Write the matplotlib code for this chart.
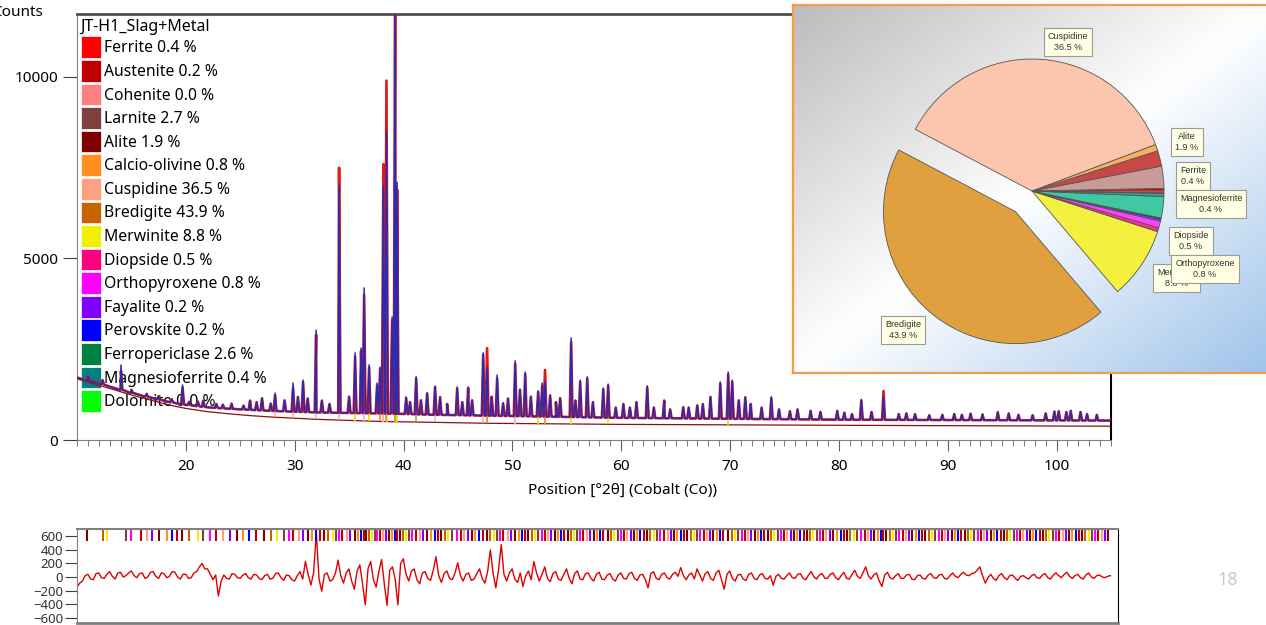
import matplotlib.pyplot as plt
import numpy as np
from matplotlib.patches import Patch
from matplotlib.colors import LinearSegmentedColormap
from matplotlib.ticker import MultipleLocator

plt.rcParams['font.family'] = ['Noto Sans', 'DejaVu Sans']

# phase fractions (legend + pie)
phases = ['Ferrite', 'Austenite', 'Cohenite', 'Larnite', 'Alite', 'Calcio-olivine',
          'Cuspidine', 'Bredigite', 'Merwinite', 'Diopside', 'Orthopyroxene',
          'Fayalite', 'Perovskite', 'Ferropericlase', 'Magnesioferrite', 'Dolomite']
fractions = [0.4, 0.2, 0.0, 2.7, 1.9, 0.8, 36.5, 43.9, 8.8, 0.5, 0.8, 0.2, 0.2, 2.6, 0.4, 0.0]
legend_colors = ['#ff0000', '#c00000', '#ff8080', '#804040', '#800000', '#ff9020',
                 '#ffa080', '#c86400', '#f0f000', '#ff0080', '#ff00ff', '#8000ff',
                 '#0000ff', '#008040', '#008080', '#00ff00']
pie_colors = ['#ff3030', '#c00000', '#ff8080', '#c89a98', '#c84848', '#f8b060',
              '#fcc6ae', '#e0a040', '#f4f040', '#f03090', '#ff40ff', '#8040ff',
              '#2020ff', '#40c8a0', '#30a0a0', '#40ff40']

# background of the scan (counts)
bg_x = [10, 11, 12, 13, 14, 15, 16, 17, 18, 19, 20, 22, 24, 26, 28, 30, 32, 34, 36, 38,
        40, 42, 44, 46, 48, 50, 52, 54, 56, 58, 60, 64, 68, 72, 76, 80, 85, 90, 95, 100, 105]
bg_y = [1720, 1640, 1560, 1470, 1390, 1300, 1220, 1150, 1080, 1020, 970, 900, 860, 830,
        800, 780, 760, 750, 740, 730, 720, 700, 690, 680, 670, 660, 650, 640, 630, 620,
        610, 600, 590, 580, 570, 560, 555, 550, 545, 540, 535]
bg_low_y = [1680, 1600, 1510, 1420, 1330, 1240, 1160, 1080, 1000, 930, 870, 780, 720, 670,
            630, 600, 570, 550, 530, 510, 500, 490, 480, 470, 460, 455, 450, 445, 440, 435,
            430, 425, 420, 415, 410, 405, 400, 395, 390, 385, 380]

# peaks: position, observed top, calculated top
peak_pos = [11.0, 12.35, 14.04, 15.0, 16.4, 17.5, 18.7, 19.7, 20.3, 21.1, 21.6, 22.8, 23.4,
            24.2, 25.3, 25.9, 26.5, 27.0, 27.8, 28.2, 29.07, 29.85, 30.3, 30.77, 31.2, 31.97,
            32.5, 33.2, 34.08, 35.0, 35.55, 36.1, 36.38, 36.84, 37.57, 37.85, 38.15, 38.43,
            38.95, 39.23, 39.41, 40.24, 40.6, 41.16, 41.6, 42.17, 42.9, 43.36, 44.0, 44.93,
            45.4, 45.94, 46.3, 47.32, 47.68, 48.1, 48.6, 49.15, 49.6, 50.26, 50.7, 51.18,
            51.7, 52.37, 52.74, 53.0, 53.47, 54.0, 54.39, 55.4, 55.8, 56.23, 56.88, 57.4,
            58.35, 58.8, 59.5, 60.2, 60.8, 61.4, 62.39, 63.0, 63.95, 64.5, 65.7, 66.2, 66.99,
            67.5, 68.2, 69.1, 69.83, 70.2, 70.8, 71.4, 71.9, 72.9, 73.79, 74.5, 75.5, 76.2,
            77.4, 78.3, 79.85, 80.5, 81.2, 82.06, 83.0, 84.1, 85.5, 86.2, 87.0, 88.3, 89.5,
            90.6, 91.3, 92.1, 93.2, 94.6, 95.6, 96.5, 97.8, 99.0, 99.8, 100.2, 100.9, 101.3,
            102.2, 102.8, 103.7]
peak_obs = [1760, 1640, 2066, 1380, 1280, 1200, 1130, 1515, 1060, 1050, 1090, 1000, 980,
            990, 940, 1100, 1050, 1160, 1010, 1290, 1100, 1570, 1200, 1650, 1150, 3030,
            1100, 1000, 7000, 1200, 2400, 2530, 4190, 2070, 1570, 2010, 7000, 8500,
            3390, 11900, 7100, 1190, 1050, 1740, 1100, 1300, 1490, 1190, 1000, 1460,
            1050, 1460, 1100, 2400, 2000, 1200, 1790, 1020, 1150, 2180, 1400, 1870,
            1200, 1350, 1570, 1600, 1240, 1050, 1160, 2810, 1100, 1650, 1740, 1050,
            1430, 1540, 900, 1000, 900, 1050, 1490, 900, 1100, 850, 910, 900, 960,
            1000, 1200, 1600, 1870, 1650, 1100, 1190, 1000, 900, 1190, 850, 800, 850,
            810, 780, 810, 760, 720, 1120, 780, 1200, 720, 740, 716, 690, 700,
            720, 700, 735, 710, 770, 735, 700, 690, 740, 790, 800, 780, 810,
            780, 720, 700]
peak_calc = [1760, 1650, 1900, 1380, 1270, 1210, 1120, 1450, 1050, 1060, 1080, 990, 970,
             1000, 950, 1080, 1040, 1150, 1000, 1240, 1090, 1430, 1180, 1600, 1140, 2900,
             1080, 990, 7500, 1190, 2300, 2450, 4000, 2000, 1500, 1950, 7600, 9900,
             3300, 11900, 6900, 1150, 1040, 1700, 1090, 1280, 1450, 1180, 990, 1420,
             1040, 1430, 1090, 2350, 2530, 1190, 1700, 1010, 1140, 2100, 1380, 1820,
             1190, 1330, 1500, 1930, 1220, 1040, 1150, 2700, 1080, 1600, 1700, 1040,
             1400, 1500, 890, 990, 890, 1040, 1450, 890, 1080, 840, 900, 890, 950,
             990, 1180, 1550, 1800, 1600, 1090, 1170, 990, 890, 1150, 840, 790, 840,
             800, 770, 800, 750, 710, 1080, 770, 1350, 710, 730, 710, 680, 690,
             710, 690, 720, 700, 760, 730, 690, 680, 730, 780, 790, 770, 800,
             770, 710, 690]

# single-phase contributions (spikes above the low background)
merw_pos = [35.55, 36.84, 38.15, 38.5, 39.23, 39.41, 47.68, 50.26, 52.37, 55.4, 58.8, 69.83]
merw_top = [900, 1000, 1900, 2300, 2400, 1800, 1000, 900, 800, 700, 700, 800]
cusp_pos = [28.2, 29.85, 31.97, 34.08, 36.38, 38.15, 42.9, 47.32, 50.26]
cusp_top = [1000, 1200, 2500, 5600, 3000, 7600, 1200, 2000, 1700]
bred_pos = [37.85, 38.43, 39.23, 41.16, 47.68, 53.0]
bred_top = [900, 1600, 2000, 800, 900, 800]

# difference plot, sampled every 0.25 deg from 10 to 105
res_y = [-150, -90, -60, 20, 40, -30, -40, 50, 60, -10, -20, 40, 80, 10, -30, 60, 70, 0, 20, 60,
         90, 20, -10, 50, 60, -20, 0, 70, 80, 10, -20, 60, 50, -10, 10, 80, 70, 0, -30, 40,
         40, -20, -10, 60, 80, 150, 200, 120, 120, 40, -40, 30, -280, -60, 30, -20, -30, 50, 40, -10,
         -20, 30, 50, -10, -30, 40, 30, -20, -40, 20, 40, -30, -20, 50, 60, -10, -50, 30, 20, -40,
         -60, 20, 80, -30, 230, 40, -120, 60, 650, -30, -210, 40, 60, -60, -40, 50, 250, 20, -90, 60,
         120, -60, -180, 90, 180, -100, -410, 120, 230, -40, -150, 80, 260, -100, -420, 100, 150, -30, -410, 200,
         270, 40, -60, 90, 120, -40, -100, 60, 80, -20, -50, 100, 300, 20, -80, 50, 90, -20, -40, 60,
         210, 20, -60, 40, 60, -50, -30, 50, 120, -20, -90, 80, 400, 60, -160, 100, 480, 40, -60, 60,
         120, -30, -80, 60, -140, 20, 90, -40, 230, 60, -60, 40, 150, -20, -70, 50, 80, -30, -50, 40,
         120, -20, -100, 50, 90, -30, -40, 50, 60, -20, -60, 40, 70, -30, -40, 30, 50, -30, -60, 30,
         60, -20, -30, 50, 70, -20, -50, 30, 40, -40, -160, 50, 80, -20, -40, 40, 60, -10, -30, 40,
         70, 10, 140, 20, -40, 30, 60, -30, 120, 30, -60, 50, 80, -20, -50, 60, 100, -40, -180, 40,
         90, -20, -60, 30, 40, -30, -50, 40, 60, -20, -40, 30, 50, -20, -30, 20, -120, 10, 40, -20,
         -30, 20, 60, -10, -20, 40, 50, -20, -40, 30, 80, 0, -30, 30, 50, -20, -20, 40, 60, -10,
         -40, 20, 70, -20, -30, 40, 100, 10, -20, 60, 150, 20, -30, 30, 60, -60, -140, 30, 70, -10,
         -30, 20, 50, -20, -20, 30, 40, -30, -40, 20, 30, -20, -30, 30, 50, -10, -20, 30, 40, -20,
         -30, 20, 60, 10, -10, 40, 70, 30, 20, 50, 60, 100, 150, 20, -90, -10, 40, -20, -50, 20,
         50, -10, -40, 20, 30, -20, -50, 10, 20, -10, -30, 20, 40, -10, -20, 30, 50, -10, -30, 30,
         60, 20, -10, 40, 70, 10, -20, 20, 40, -10, -30, 30, 60, 0, -20, 20, 30, 0, -10, 10,
         20]

# reflection markers
refl_pos = [10.9, 12.35, 12.8, 14.5, 15.0, 15.9, 16.4, 16.9, 17.5, 18.3, 18.7, 19.2, 19.65,
            20.3, 21.1, 21.6, 22.2, 22.8, 23.4, 24.06, 24.7, 25.3, 25.8, 26.5, 27.2, 27.8,
            28.4, 29.07, 29.5, 29.9, 30.4, 30.8, 31.2, 31.6, 31.97, 32.3, 32.7, 33.1, 33.5,
            33.8, 34.08, 34.4, 34.8, 35.1, 35.55, 35.8, 36.1, 36.38, 36.6, 36.84, 37.1,
            37.35, 37.57, 37.85, 38.15, 38.43, 38.7, 38.95, 39.23, 39.41, 39.7, 40.0,
            40.24, 40.5, 40.8, 41.16, 41.5, 41.8, 42.17, 42.5, 42.9, 43.2, 43.5, 43.8,
            44.1, 44.5, 44.93, 45.3, 45.6, 45.94, 46.3, 46.6, 47.0, 47.32, 47.68, 48.0,
            48.3, 48.6, 48.9, 49.2, 49.6, 49.9, 50.26, 50.6, 50.9, 51.18, 51.5, 51.8, 52.1,
            52.37, 52.74, 53.0, 53.3, 53.6, 53.9, 54.2, 54.5, 54.8, 55.1, 55.4, 55.7, 56.0,
            56.23, 56.5, 56.88, 57.2, 57.5, 57.8, 58.1, 58.35, 58.8, 59.1, 59.4, 59.7, 60.0,
            60.3, 60.6, 60.9, 61.2, 61.5, 61.8, 62.1, 62.39, 62.7, 63.0, 63.3, 63.6, 63.95,
            64.3, 64.6, 64.9, 65.2, 65.5, 65.8, 66.1, 66.4, 66.7, 66.99, 67.3, 67.6, 67.9,
            68.2, 68.5, 68.8, 69.1, 69.4, 69.83, 70.2, 70.5, 70.8, 71.1, 71.4, 71.7, 72.0,
            72.3, 72.6, 72.9, 73.2, 73.5, 73.79, 74.1, 74.4, 74.7, 75.0, 75.3, 75.6, 75.9,
            76.2, 76.5, 76.8, 77.1, 77.4, 77.7, 78.0, 78.3, 78.6, 78.9, 79.2, 79.5, 79.85,
            80.2, 80.5, 80.8, 81.1, 81.4, 81.7, 82.06, 82.4, 82.7, 83.0, 83.3, 83.6, 83.9,
            84.1, 84.4, 84.7, 85.0, 85.3, 85.6, 85.9, 86.2, 86.5, 86.8, 87.1, 87.4, 87.7,
            88.0, 88.3, 88.6, 88.9, 89.2, 89.5, 89.8, 90.1, 90.4, 90.7, 91.0, 91.3, 91.6,
            91.9, 92.2, 92.5, 92.8, 93.1, 93.4, 93.7, 94.0, 94.3, 94.6, 94.9, 95.2, 95.5,
            95.8, 96.1, 96.4, 96.7, 97.0, 97.3, 97.6, 97.9, 98.2, 98.5, 98.8, 99.1, 99.4,
            99.7, 100.0, 100.3, 100.6, 100.9, 101.2, 101.5, 101.8, 102.1, 102.4, 102.7,
            103.0, 103.3, 103.6, 103.9, 104.2, 104.5, 104.8]

x_ticks = [20, 30, 40, 50, 60, 70, 80, 90, 100]
y_ticks = [0, 5000, 10000]
res_ticks = [-600, -400, -200, 0, 200, 400, 600]

W, H = 1266, 625


def box(x0, y0, x1, y1):
    return [x0 / W, 1 - y1 / H, (x1 - x0) / W, (y1 - y0) / H]


def profile(pos, tops, bx, by, hw=0.13):
    pos = np.asarray(pos, float)
    feet = np.interp(pos, bx, by)
    xs = np.concatenate([bx, pos - hw, pos, pos + hw])
    ys = np.concatenate([by, feet, tops, feet])
    order = np.argsort(xs, kind='stable')
    return xs[order], ys[order]


fig = plt.figure(figsize=(12.66, 6.25), dpi=100)

# ---- main pattern
ax = fig.add_axes(box(77, 14, 1111, 440))
ax.plot(bg_x, bg_low_y, color='#8b1010', lw=0.9, zorder=2)
for p, t, c in [(merw_pos, merw_top, '#e8e000'), (cusp_pos, cusp_top, '#f0b0b8'),
                (bred_pos, bred_top, '#e09030')]:
    ax.vlines(p, np.interp(p, bg_x, bg_low_y), t, color=c, lw=1.2, zorder=2)
cx, cy = profile(peak_pos, peak_calc, bg_x, bg_y)
ox, oy = profile(peak_pos, peak_obs, bg_x, bg_y)
ax.plot(cx, cy, color='#e01818', lw=1.9, zorder=3)
ax.plot(ox, oy, color='#2b2bb0', lw=1.1, zorder=4)

ax.set_xlim(10, 105)
ax.set_ylim(0, 11735)
ax.set_xticks(x_ticks)
ax.xaxis.set_minor_locator(MultipleLocator(1))
ax.set_yticks(y_ticks)
ax.tick_params(axis='x', which='major', length=8, color='#606060', labelsize=11, pad=6)
ax.tick_params(axis='x', which='minor', length=4, color='#606060')
ax.tick_params(axis='y', length=10, color='#404040', labelsize=11)
ax.spines['top'].set_color('#505050')
ax.spines['top'].set_linewidth(2)
ax.spines['left'].set_color('#808080')
ax.spines['bottom'].set_color('#808080')
ax.spines['right'].set_color('black')
ax.spines['right'].set_linewidth(1.5)

handles = [Patch(facecolor=c, edgecolor='white', lw=0.5) for c in legend_colors]
labels = [f'{n} {f:.1f} %' for n, f in zip(phases, fractions)]
leg = ax.legend(handles, labels, title='JT-H1_Slag+Metal', loc='upper left',
                bbox_to_anchor=(79 / W, 1 - 17 / H), bbox_transform=fig.transFigure,
                frameon=False, fontsize=11.3, title_fontsize=11.5, alignment='left',
                handlelength=1.27, handleheight=1.75, labelspacing=0.12,
                handletextpad=0.25, borderpad=0.1, borderaxespad=0)
leg.set_zorder(1)

fig.text(-8 / W, 1 - 5 / H, 'Counts', ha='left', va='top', fontsize=11)
fig.text(622 / W, 1 - 490 / H, 'Position [°2θ] (Cobalt (Co))', ha='center',
         va='center', fontsize=11)

# ---- difference plot
axr = fig.add_axes(box(77, 529, 1118, 623))
res_x = np.linspace(10, 105, len(res_y))
axr.plot(res_x, res_y, color='#e00000', lw=1.0)
tick_cols = ['#800000', '#c86400', '#f0f000', '#804040', '#ff00ff', '#c00000',
             '#ffa080', '#8000ff', '#800000', '#ff9020', '#0000ff', '#c00000']
axr.vlines(refl_pos, 0.87, 1.0, transform=axr.get_xaxis_transform(),
           colors=[tick_cols[i % len(tick_cols)] for i in range(len(refl_pos))], lw=1.5)
axr.set_xlim(10, 105.7)
axr.set_ylim(-680, 710)
axr.set_yticks(res_ticks)
axr.set_xticks([])
axr.tick_params(axis='y', length=9, color='#404040', labelsize=9.5, labelcolor='#333333', pad=1)
for s in ['top', 'left', 'bottom']:
    axr.spines[s].set_color('#808080')
axr.spines['bottom'].set_linewidth(2)
axr.spines['top'].set_linewidth(1.5)
axr.spines['right'].set_color('black')

# ---- pie inset
axb = fig.add_axes(box(793, 5, 1272, 373))
grad = np.add.outer(np.linspace(0, 1, 200), np.linspace(0, 1, 200)) / 2
cmap = LinearSegmentedColormap.from_list('bgrad', ['#bcbcbc', '#ffffff', '#9ec3ea'])
axb.imshow(grad, cmap=cmap, extent=[0, 1, 0, 1], aspect='auto', origin='upper')
axb.set_xticks([])
axb.set_yticks([])
for s in axb.spines.values():
    s.set_color('#f39c4a')
    s.set_linewidth(1.6)

axp = fig.add_axes(box(1032 - 171.6, 191 - 171.6, 1032 + 171.6, 191 + 171.6))
axp.set_axis_off()
explode = [0.2 if n == 'Bredigite' else 0 for n in phases]
axp.pie(fractions, colors=pie_colors, startangle=-1, explode=explode,
        wedgeprops=dict(edgecolor='#555555', lw=0.6))
axp.set_xlim(-1.3, 1.3)
axp.set_ylim(-1.3, 1.3)

pie_label_pos = [('Cuspidine', 0.273, 1.129), ('Alite', 1.174, 0.371),
                 ('Ferrite', 1.22, 0.114), ('Magnesioferrite', 1.356, -0.098),
                 ('Diopside', 1.205, -0.379), ('Merwinite', 1.098, -0.659),
                 ('Orthopyroxene', 1.31, -0.59), ('Bredigite', -0.977, -1.053)]
for i, (name, lx, ly) in enumerate(pie_label_pos):
    f = fractions[phases.index(name)]
    axp.text(lx, ly, f'{name}\n{f:.1f} %', ha='center', va='center', fontsize=6.5,
             family=['Liberation Sans', 'DejaVu Sans'], color='#333333', zorder=5 + i,
             linespacing=1.3,
             bbox=dict(boxstyle='square,pad=0.45', fc='#ffffe4', ec='#9a9a9a', lw=0.8))

fig.text(1228 / W, 1 - 580 / H, '18', ha='center', va='center', fontsize=13,
         color='#c8c8c8', fontweight='bold')

fig.savefig('out.png', dpi=100)
